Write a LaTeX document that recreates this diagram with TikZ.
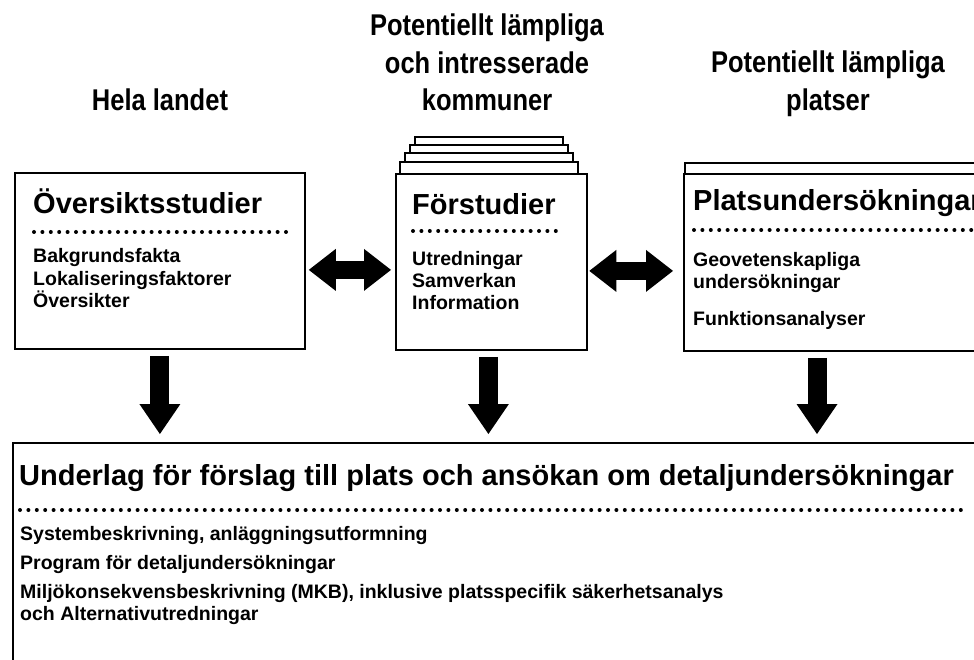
\documentclass[tikz,border=0pt]{standalone}
\usepackage{fontspec}
\setmainfont{Liberation Sans}
\newfontfamily\headfont[FakeStretch=0.85]{Liberation Sans}
\usetikzlibrary{arrows.meta,positioning}

\tikzset{
  box/.style={draw, line width=1.8pt, fill=white, inner sep=0pt, anchor=north west},
  page/.style={draw, line width=1.8pt, fill=white},
  title/.style={anchor=base west, inner sep=0pt, font=\bfseries\fontsize{29}{29}\selectfont},
  item/.style={anchor=base west, inner sep=0pt, align=left, font=\bfseries\fontsize{19.5}{22}\selectfont},
  head/.style={inner sep=0pt, align=center, font=\headfont\bfseries\fontsize{30}{37.5}\selectfont},
  dots/.style={line width=4pt, line cap=round, dash pattern=on 0pt off 8.4pt},
  twoway/.style={line width=18pt, >={Triangle[width=42pt,length=27pt,line width=0pt]}, <->},
  down/.style={line width=19pt, -{Triangle[width=41pt,length=30pt,line width=0pt]}, shorten <=6pt, shorten >=8pt}
}

\begin{document}
\begin{tikzpicture}[x=1pt, y=-1pt]

% Frame
\useasboundingbox (0,0) rectangle (974,660);
\clip (0,0) rectangle (974,660);

% Headings
\node[head, anchor=base] (hela) at (160,111) {Hela landet};
\node[head, anchor=north] (kommuner) at (487,14) {Potentiellt lämpliga\\och intresserade\\kommuner};
\node[head, anchor=north] (platser) at (828,51) {Potentiellt lämpliga\\platser};

% Pages behind the boxes
\foreach \d/\t in {4/137,3/145,2/153,1/162}
  \draw[page] (395+5*\d,\t) rectangle (583-5*\d,190);
\draw[page] (685,163) rectangle (1000,200);

% Boxes
\node[box, minimum width=290pt, minimum height=176pt] (oversikt) at (14,172) {};
\node[box, minimum width=191pt, minimum height=176pt] (forstudie) at (395,173) {};
\node[box, minimum width=330pt, minimum height=177pt] (plats) at (683,173) {};
\node[box, minimum width=990pt, minimum height=300pt] (underlag) at (12,442) {};

% Översiktsstudier (base = last line)
\node[title] (oversikt-t) at (33,214) {Översiktsstudier};
\draw[dots] (34,232) -- (288,232);
\node[item] (oversikt-i) at (33,307) {Bakgrundsfakta\\Lokaliseringsfaktorer\\Översikter};

% Förstudier
\node[title] (forstudie-t) at (412,215) {Förstudier};
\draw[dots] (413,231) -- (562,231);
\node[item] (forstudie-i) at (412,309) {Utredningar\\Samverkan\\Information};

% Platsundersökningar
\node[title] (plats-t) at (693,211) {Platsundersökningar};
\draw[dots] (694,230) -- (980,230);
\node[item] (plats-i) at (693,288) {Geovetenskapliga\\undersökningar};
\node[item] (plats-j) at (693,325) {Funktionsanalyser};

% Underlag
\node[title] (underlag-t) at (19,485) {Underlag för förslag till plats och ansökan om detaljundersökningar};
\draw[dots] (20,510) -- (962,510);
\node[item] (underlag-a) at (20,540) {Systembeskrivning, anläggningsutformning};
\node[item] (underlag-b) at (20,569) {Program för detaljundersökningar};
\node[item] (underlag-c) at (20,620) {Miljökonsekvensbeskrivning (MKB), inklusive platsspecifik säkerhetsanalys\\och Alternativutredningar};

% Arrows
\draw[twoway, shorten <=3pt, shorten >=4pt] ([yshift=-9pt]oversikt.east) -- ([yshift=-9pt]oversikt.east -| forstudie.west);
\draw[twoway, shorten <=1.5pt, shorten >=10pt] ([yshift=-9pt]forstudie.east) -- ([yshift=-9pt]forstudie.east -| plats.west);
\draw[down] (oversikt.south) -- (oversikt.south |- underlag.north);
\draw[down] ([xshift=-3pt]forstudie.south) -- ([xshift=-3pt]forstudie.south |- underlag.north);
\draw[down] ([xshift=134pt]plats.south west) -- ([xshift=134pt]plats.south west |- underlag.north);

\end{tikzpicture}
\end{document}
